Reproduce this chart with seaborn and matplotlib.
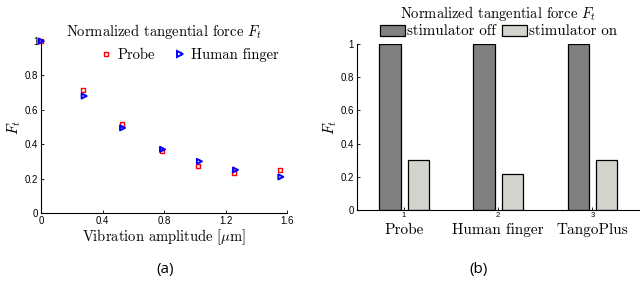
import pandas as pd
import matplotlib.pyplot as plt
import seaborn as sns
from matplotlib.lines import Line2D

# (a) normalized tangential force vs vibration amplitude
amp_probe = [0.0, 0.275, 0.525, 0.785, 1.02, 1.255, 1.555]
ft_probe = [1.0, 0.715, 0.515, 0.36, 0.275, 0.235, 0.25]
amp_finger = [0.0, 0.28, 0.53, 0.79, 1.03, 1.265, 1.56]
ft_finger = [1.0, 0.68, 0.495, 0.37, 0.30, 0.25, 0.21]

# (b) stimulator off / on per material
materials = ['Probe', 'Human finger', 'TangoPlus']
ft_off = [1.0, 1.0, 1.0]
ft_on = [0.30, 0.22, 0.30]

sns.set_style('ticks')
plt.rcParams['font.family'] = ['Liberation Sans', 'DejaVu Sans']
plt.rcParams['mathtext.fontset'] = 'cm'
plt.rcParams['xtick.direction'] = 'in'
plt.rcParams['ytick.direction'] = 'in'
for key in ['text.color', 'axes.labelcolor', 'xtick.color', 'ytick.color', 'axes.edgecolor']:
    plt.rcParams[key] = 'black'
serif = 'cmr10'

fig = plt.figure(figsize=(6.42, 2.87), dpi=100)
ax1 = fig.add_axes([0.064, 0.258, 0.383, 0.599])
ax2 = fig.add_axes([0.556, 0.268, 0.440, 0.579])

# left panel
sns.scatterplot(x=amp_probe, y=ft_probe, ax=ax1, marker='s', s=9,
                facecolors='none', edgecolor='red', linewidth=1.0, clip_on=False, zorder=3)
sns.scatterplot(x=amp_finger, y=ft_finger, ax=ax1, marker='>', s=13,
                facecolors='none', edgecolor='blue', linewidth=1.4, clip_on=False, zorder=3)
ax1.set_xlim(0, 1.6)
ax1.set_ylim(0, 1)
ax1.set_xticks([0, 0.4, 0.8, 1.2, 1.6])
ax1.set_xticklabels(['0', '0.4', '0.8', '1.2', '1.6'])
ax1.set_yticks([0, 0.2, 0.4, 0.6, 0.8, 1])
ax1.set_yticklabels(['0', '0.2', '0.4', '0.6', '0.8', '1'])
ax1.tick_params(labelsize=7, length=2.5, width=0.6, pad=2)
sns.despine(ax=ax1)
for sp in ax1.spines.values():
    sp.set_linewidth(0.8)
ax1.set_title(r'Normalized tangential force $F_t$', family=serif, fontsize=10.5, pad=3)
ax1.set_xlabel(r'Vibration amplitude [$\mu$m]', family=serif, fontsize=10.5, labelpad=1)
ax1.set_ylabel(r'$F_t$', fontsize=11, labelpad=1)
handles = [Line2D([], [], ls='none', marker='s', ms=3.2, mfc='none', mec='red', mew=1.0),
           Line2D([], [], ls='none', marker='>', ms=3.8, mfc='none', mec='blue', mew=1.4)]
ax1.legend(handles, ['Probe', 'Human finger'], ncol=2, frameon=False,
           loc='center', bbox_to_anchor=(0.6, 0.92), prop={'family': serif, 'size': 10.5},
           handletextpad=0.3, columnspacing=1.2, handlelength=1.0, borderpad=0)

# right panel
df = pd.DataFrame({
    'material': materials * 2,
    'state': ['stimulator off'] * 3 + ['stimulator on'] * 3,
    'Ft': ft_off + ft_on,
})
sns.barplot(data=df, x='material', y='Ft', hue='state', ax=ax2,
            palette=['#808080', '#d7d3cb'], width=0.6, gap=0.25,
            edgecolor='black', linewidth=0.9, legend=True)
ax2.set_xlim(-0.5, 2.5)
ax2.set_ylim(0, 1)
ax2.set_xticks([0, 1, 2])
ax2.set_xticklabels(['1', '2', '3'])
ax2.set_yticks([0, 0.2, 0.4, 0.6, 0.8, 1])
ax2.set_yticklabels(['0', '0.2', '0.4', '0.6', '0.8', '1'])
ax2.tick_params(axis='y', labelsize=7, length=2.5, width=0.6, pad=2)
ax2.tick_params(axis='x', labelsize=5.5, length=2.5, width=0.6, pad=1.5)
sns.despine(ax=ax2)
for sp in ax2.spines.values():
    sp.set_linewidth(0.8)
for i, name in enumerate(materials):
    ax2.text(i, -0.12, name, transform=ax2.get_xaxis_transform(), ha='center', va='center',
             family=serif, fontsize=11)
ax2.set_xlabel('')
ax2.set_ylabel(r'$F_t$', fontsize=11, labelpad=1)
ax2.set_title(r'Normalized tangential force $F_t$', family=serif, fontsize=10.5, pad=19)
ax2.legend(ncol=2, frameon=False, loc='center', bbox_to_anchor=(0.5, 1.075),
           prop={'family': serif, 'size': 10.8}, handlelength=1.7, handleheight=0.75,
           handletextpad=0.1, columnspacing=0.4, borderpad=0)

fig.text(0.257, 0.06, '(a)', ha='center', va='center', fontsize=11, family='Open Sans')
fig.text(0.745, 0.06, '(b)', ha='center', va='center', fontsize=11, family='Open Sans')

fig.savefig('out.png', dpi=100)
